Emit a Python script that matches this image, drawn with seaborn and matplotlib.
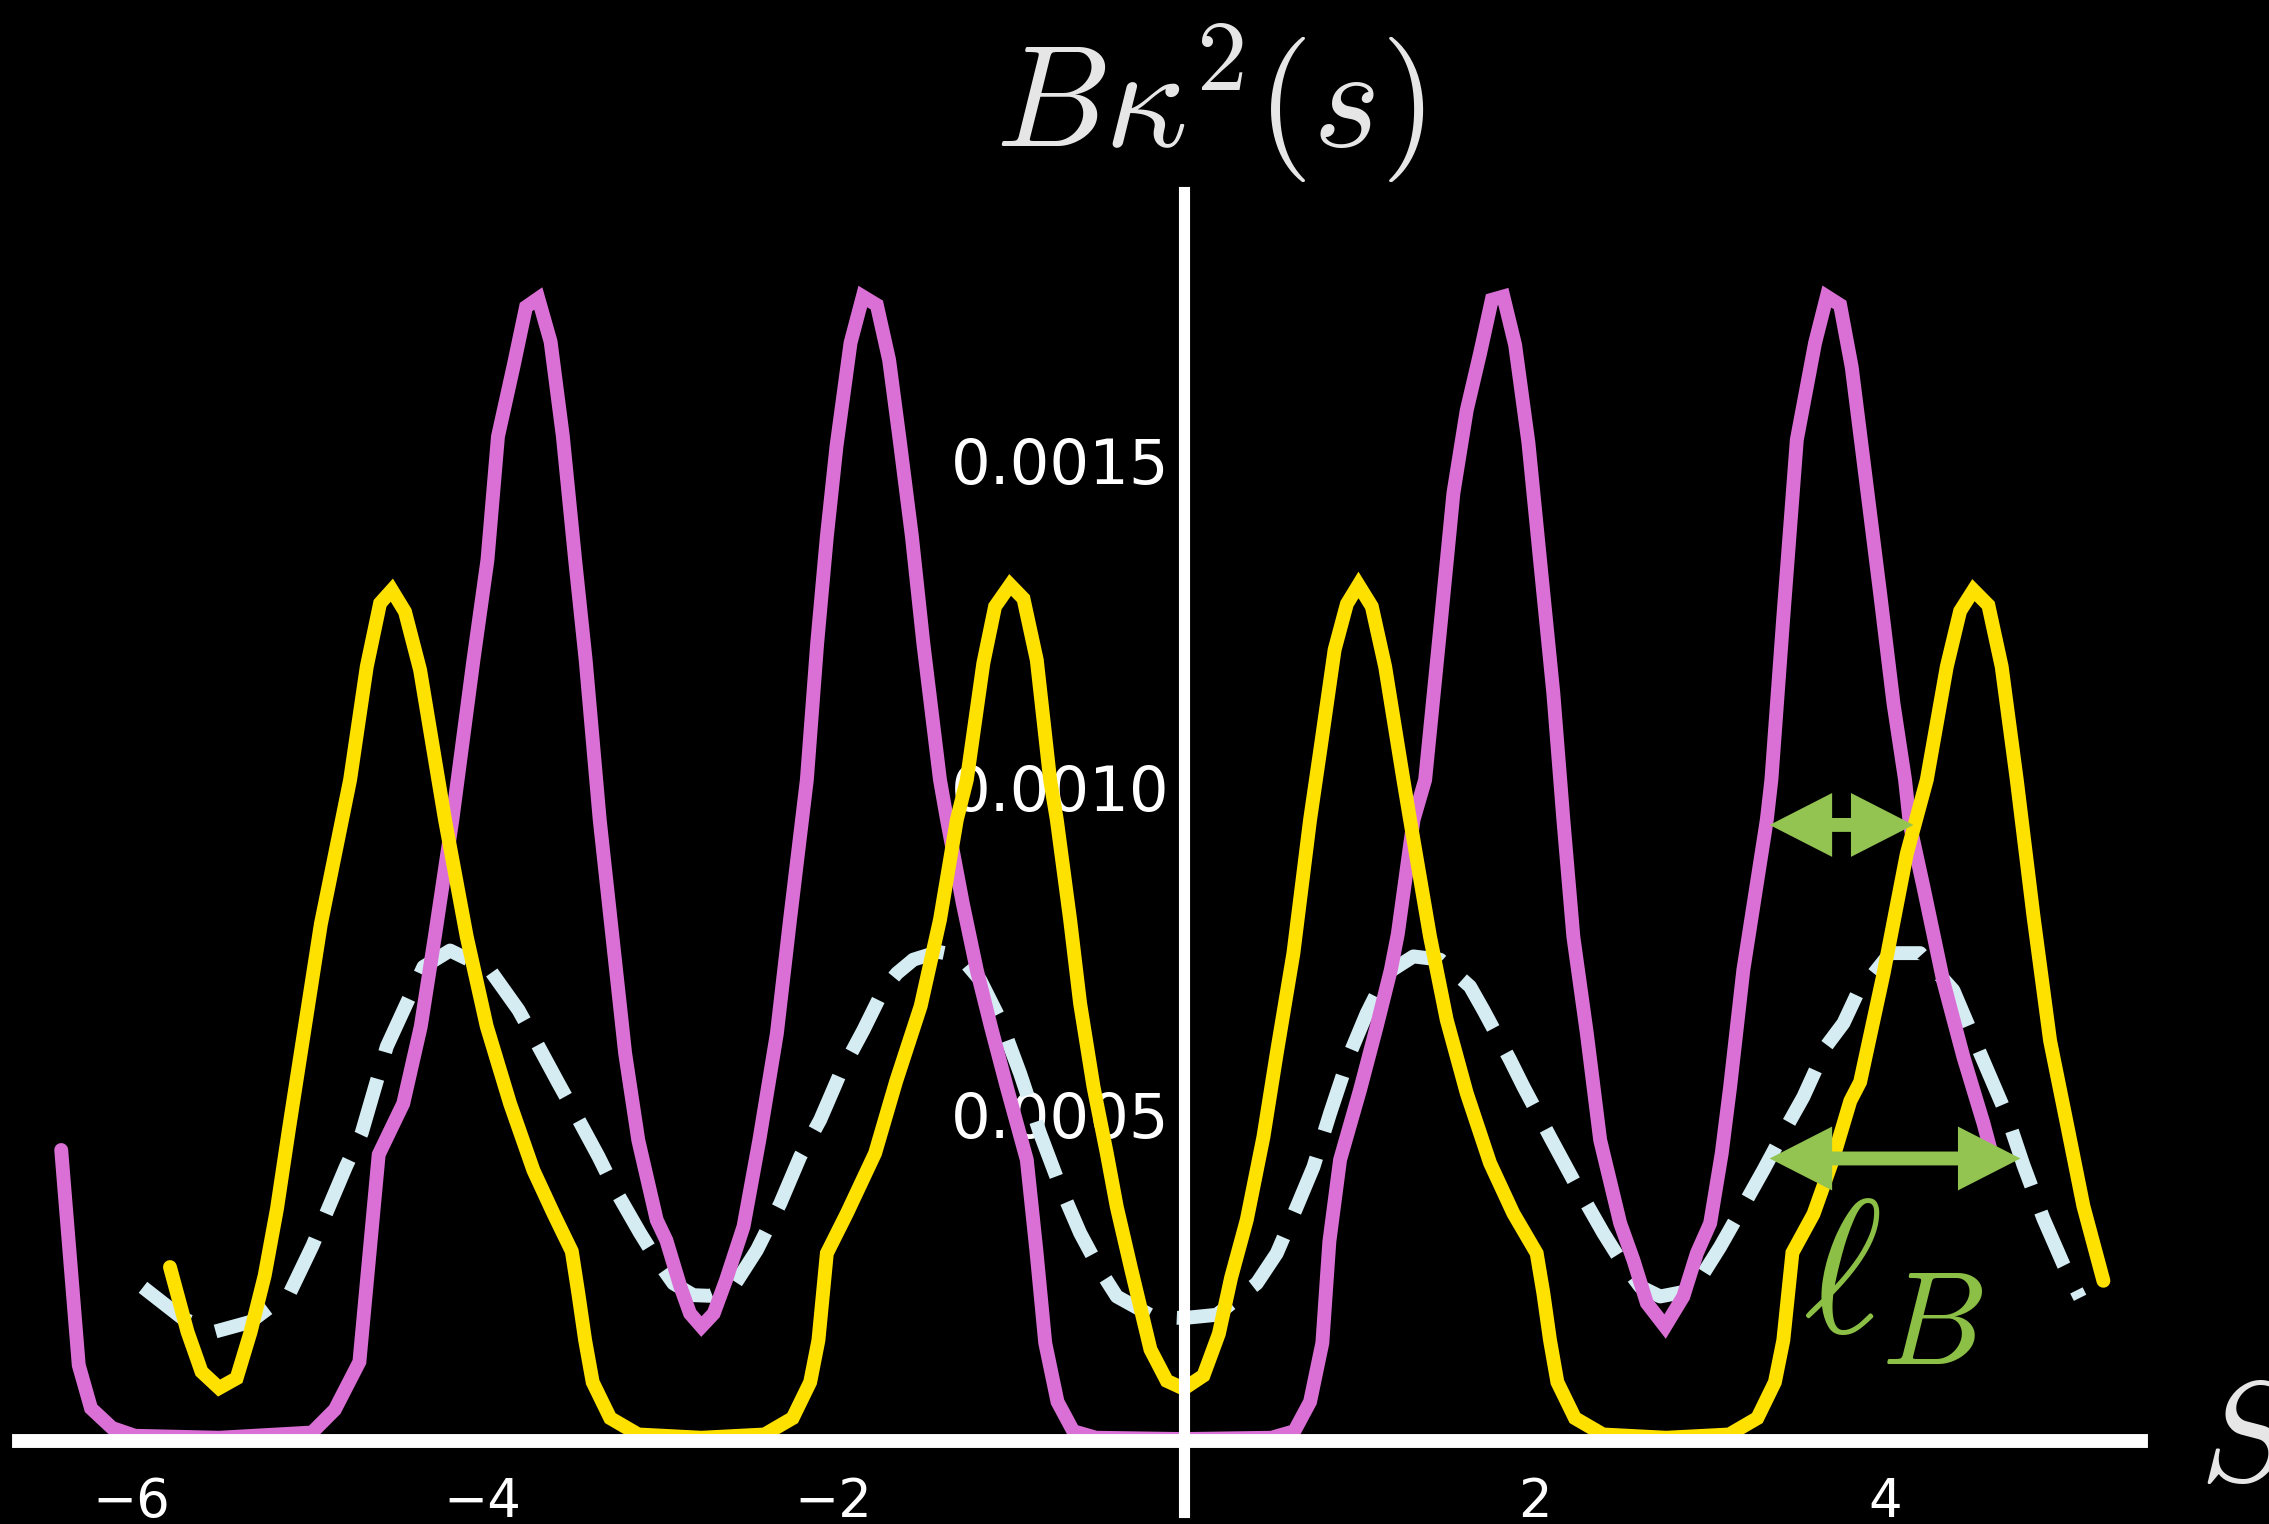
import matplotlib
matplotlib.use("Agg")
import matplotlib.pyplot as plt
import seaborn as sns
from matplotlib.patches import FancyArrowPatch

# curve samples (s, B*kappa^2)
MAGENTA_S = [-6.40, -6.30, -6.23, -6.11, -5.98, -5.50, -4.97, -4.84, -4.70, -4.59,
             -4.45, -4.35, -4.27, -4.17, -4.05, -3.97, -3.91, -3.82, -3.75, -3.68,
             -3.61, -3.54, -3.47, -3.41, -3.33, -3.185, -3.11, -3.005, -2.95, -2.87,
             -2.815, -2.75, -2.68, -2.61, -2.51, -2.42, -2.32, -2.245, -2.149, -2.09,
             -2.035, -1.98, -1.90, -1.83, -1.75, -1.68, -1.62, -1.55, -1.485, -1.39,
             -1.35, -1.26, -1.18, -1.10, -1.01, -0.895, -0.84, -0.79, -0.72, -0.63,
             -0.50, 0.0, 0.50, 0.63, 0.72, 0.79, 0.83, 0.891, 1.005, 1.10,
             1.18, 1.22, 1.31, 1.376, 1.461, 1.537, 1.613, 1.689, 1.756, 1.822,
             1.889, 1.965, 2.031, 2.107, 2.164, 2.221, 2.298, 2.374, 2.488, 2.563,
             2.64, 2.744, 2.848, 2.925, 3.001, 3.067, 3.115, 3.19, 3.324, 3.35,
             3.418, 3.495, 3.599, 3.666, 3.742, 3.808, 3.884, 3.97, 4.046, 4.112,
             4.14, 4.217, 4.331, 4.445, 4.559, 4.60]
MAGENTA_K = [0.000445, 0.000116, 0.000050, 0.000020, 0.000008, 0.000005, 0.000013, 0.000048, 0.000121, 0.000438,
             0.000516, 0.000634, 0.000771, 0.000950, 0.001194, 0.001347, 0.001536, 0.001645, 0.001734, 0.001747,
             0.001681, 0.001536, 0.001347, 0.001194, 0.000950, 0.000593, 0.000460, 0.000338, 0.000307, 0.000236,
             0.000195, 0.000175, 0.000195, 0.000246, 0.000328, 0.000460, 0.000623, 0.000797, 0.001011, 0.001220,
             0.001383, 0.001521, 0.001679, 0.001750, 0.001737, 0.001653, 0.001531, 0.001383, 0.001220, 0.001011,
             0.000950, 0.000822, 0.000720, 0.000634, 0.000542, 0.000430, 0.000290, 0.000150, 0.000060, 0.000015,
             0.000005, 0.000003, 0.000005, 0.000015, 0.000060, 0.000150, 0.000305, 0.000430, 0.000537, 0.000634,
             0.000720, 0.000775, 0.000950, 0.001011, 0.001240, 0.001449, 0.001576, 0.001663, 0.001745, 0.001750,
             0.001676, 0.001526, 0.001347, 0.001143, 0.000950, 0.000771, 0.000623, 0.000460, 0.000333, 0.000277,
             0.000211, 0.000175, 0.000221, 0.000287, 0.000333, 0.000440, 0.000542, 0.000720, 0.000950, 0.001011,
             0.001260, 0.001531, 0.001679, 0.001750, 0.001737, 0.001642, 0.001480, 0.001296, 0.001128, 0.001011,
             0.000942, 0.000847, 0.000702, 0.000587, 0.000486, 0.000445]

YELLOW_S = [-5.78, -5.68, -5.60, -5.50, -5.40, -5.32, -5.24, -5.17, -5.10, -4.92,
            -4.753, -4.658, -4.582, -4.515, -4.44, -4.354, -4.25, -4.212, -4.088, -3.974,
            -3.841, -3.708, -3.594, -3.489, -3.452, -3.413, -3.37, -3.27, -3.11, -2.75,
            -2.39, -2.23, -2.13, -2.083, -2.035, -1.921, -1.76, -1.64, -1.50, -1.39,
            -1.294, -1.237, -1.143, -1.076, -0.99, -0.914, -0.838, -0.762, -0.724, -0.648,
            -0.591, -0.515, -0.439, -0.382, -0.30, -0.19, -0.097, 0.0, 0.112, 0.20,
            0.27, 0.359, 0.454, 0.53, 0.625, 0.72, 0.78, 0.86, 0.93, 0.996,
            1.072, 1.148, 1.252, 1.29, 1.404, 1.499, 1.613, 1.746, 1.879, 2.012,
            2.05, 2.088, 2.13, 2.23, 2.39, 2.75, 3.11, 3.27, 3.37, 3.418,
            3.47, 3.59, 3.70, 3.80, 3.856, 3.989, 4.122, 4.236, 4.35, 4.426,
            4.502, 4.587, 4.663, 4.749, 4.844, 4.939, 5.034, 5.129, 5.243]
YELLOW_K = [0.000266, 0.000167, 0.000106, 0.000081, 0.000096, 0.000167, 0.000253, 0.000355, 0.000480, 0.000790,
            0.001011, 0.001184, 0.001281, 0.001301, 0.001268, 0.001179, 0.001011, 0.000950, 0.000771, 0.000634,
            0.000516, 0.000414, 0.000348, 0.000290, 0.000226, 0.000154, 0.000090, 0.000035, 0.000010, 0.000005,
            0.000010, 0.000035, 0.000090, 0.000154, 0.000287, 0.000348, 0.000440, 0.000550, 0.000665, 0.000797,
            0.000950, 0.001011, 0.001189, 0.001276, 0.001309, 0.001288, 0.001194, 0.001011, 0.000950, 0.000797,
            0.000669, 0.000542, 0.000440, 0.000358, 0.000263, 0.000140, 0.000092, 0.000080, 0.000100, 0.000164,
            0.000250, 0.000338, 0.000465, 0.000593, 0.000746, 0.000950, 0.001060, 0.001210, 0.001280, 0.001309,
            0.001276, 0.001184, 0.001011, 0.000950, 0.000771, 0.000644, 0.000532, 0.000425, 0.000348, 0.000287,
            0.000226, 0.000154, 0.000090, 0.000035, 0.000010, 0.000005, 0.000010, 0.000035, 0.000090, 0.000154,
            0.000288, 0.000347, 0.000430, 0.000520, 0.000549, 0.000714, 0.000898, 0.001011, 0.001184, 0.001269,
            0.001301, 0.001278, 0.001184, 0.001011, 0.000803, 0.000612, 0.000486, 0.000359, 0.000245]

BLUE_S = [-5.934, -5.705, -5.527, -5.323, -5.094, -4.967, -4.776, -4.687, -4.544, -4.335,
          -4.183, -3.955, -3.793, -3.708, -3.565, -3.47, -3.337, -3.252, -3.10, -3.005,
          -2.91, -2.796, -2.70, -2.568, -2.434, -2.301, -2.187, -2.073, -1.959, -1.827,
          -1.713, -1.636, -1.542, -1.399, -1.275, -1.161, -1.047, -0.933, -0.819, -0.705,
          -0.591, -0.477, -0.382, -0.173, 0.0, 0.188, 0.416, 0.53, 0.644, 0.739,
          0.834, 0.948, 1.043, 1.157, 1.309, 1.461, 1.632, 1.708, 1.86, 1.936,
          2.088, 2.241, 2.392, 2.488, 2.602, 2.716, 2.85, 2.962, 3.058, 3.21,
          3.304, 3.438, 3.532, 3.666, 3.761, 3.836, 4.027, 4.198, 4.388, 4.54,
          4.692, 4.787, 4.901, 5.015, 5.11]
BLUE_K = [0.000235, 0.000187, 0.000167, 0.000182, 0.000228, 0.000299, 0.000420, 0.000471, 0.000603, 0.000725,
          0.000750, 0.000720, 0.000659, 0.000618, 0.000547, 0.000501, 0.000435, 0.000389, 0.000318, 0.000277,
          0.000241, 0.000223, 0.000222, 0.000236, 0.000292, 0.000363, 0.000435, 0.000491, 0.000562, 0.000628,
          0.000690, 0.000715, 0.000736, 0.000748, 0.000741, 0.000705, 0.000644, 0.000562, 0.000470, 0.000389,
          0.000318, 0.000261, 0.000221, 0.000190, 0.000188, 0.000193, 0.000241, 0.000287, 0.000358, 0.000419,
          0.000501, 0.000593, 0.000654, 0.000715, 0.000741, 0.000736, 0.000695, 0.000659, 0.000583, 0.000542,
          0.000465, 0.000389, 0.000318, 0.000277, 0.000236, 0.000221, 0.000228, 0.000256, 0.000297, 0.000369,
          0.000414, 0.000481, 0.000526, 0.000605, 0.000639, 0.000682, 0.000746, 0.000746, 0.000689, 0.000593,
          0.000498, 0.000422, 0.000340, 0.000270, 0.000219]

X_MAJOR = [-6, -4, -2, 0, 2, 4]
X_LABELS = ["\u22126", "\u22124", "\u22122", "", "2", "4"]
X_MINOR = [-6.5, -5.5, -5, -4.5, -3.5, -3, -2.5, -1.5, -1, -0.5, 0.5, 1, 1.5, 2.5, 3, 3.5, 4.5, 5]
Y_MAJOR = [0.0005, 0.0010, 0.0015]
Y_LABELS = ["0.0005", "0.0010", "0.0015"]
Y_MINOR = [0.0001, 0.0002, 0.0003, 0.0004, 0.0006, 0.0007, 0.0008, 0.0009,
           0.0011, 0.0012, 0.0013, 0.0014, 0.0016, 0.0017, 0.0018, 0.0019]

# the two width markers (l_B)
ARROW_UPPER = ((3.34, 0.000942), (4.16, 0.000942))
ARROW_LOWER = ((3.34, 0.000432), (4.77, 0.000432))

MAGENTA = "#da70d6"
YELLOW = "#ffe100"
BLUE = "#d4ecf2"
GREEN = "#93c452"
GREEN_TEXT = "#8cbf45"
LIGHT = "#e6e6e6"
LW = 10

sns.set_theme(style="white")
plt.rcParams["font.family"] = ["DejaVu Sans"]
plt.rcParams["mathtext.fontset"] = "cm"

fig = plt.figure(figsize=(22.69, 15.24), dpi=100, facecolor="black")
ax = fig.add_axes([0, 0, 1, 1])
ax.set_facecolor("black")

sns.lineplot(x=BLUE_S, y=BLUE_K, ax=ax, color=BLUE, sort=False, estimator=None,
             linewidth=LW, linestyle=(0, (4.2, 2.0)), dash_capstyle="butt")
sns.lineplot(x=MAGENTA_S, y=MAGENTA_K, ax=ax, color=MAGENTA, sort=False, estimator=None,
             linewidth=LW, solid_joinstyle="miter")
sns.lineplot(x=YELLOW_S, y=YELLOW_K, ax=ax, color=YELLOW, sort=False, estimator=None,
             linewidth=LW, solid_joinstyle="miter")

ax.set_xlim(-6.749, 6.187)
ax.set_ylim(-0.0001269, 0.0022034)

# axes crossing at the origin
for side in ["top", "right"]:
    ax.spines[side].set_visible(False)
ax.spines["left"].set_position(("data", 0))
ax.spines["bottom"].set_position(("data", 0))
ax.spines["left"].set_bounds(-0.000109, 0.00191)
ax.spines["bottom"].set_bounds(-6.64, 5.46)
ax.spines["left"].set_linewidth(8)
ax.spines["bottom"].set_linewidth(10)
ax.spines["left"].set_color("white")
ax.spines["bottom"].set_color("white")

ax.set_xticks(X_MAJOR, X_LABELS)
ax.set_xticks(X_MINOR, minor=True)
ax.set_yticks(Y_MAJOR, Y_LABELS)
ax.set_yticks(Y_MINOR, minor=True)
ax.tick_params(axis="x", which="major", direction="in", length=11, width=4.5, color="white",
               labelcolor="white", labelsize=38, pad=25)
ax.tick_params(axis="x", which="minor", direction="in", length=8.5, width=3.5, color="white")
ax.tick_params(axis="y", which="major", direction="in", length=10.5, width=7, color="white",
               labelcolor="white", labelsize=45, pad=10)
ax.tick_params(axis="y", which="minor", direction="in", length=7, width=6, color="white")
ax.set_xlabel("")
ax.set_ylabel("")
ax.grid(False)

# titles
fig.text(1210 / 2269, 1 - 103 / 1524, r"$B\kappa^2(s)$", ha="center", va="center",
         fontsize=104, color=LIGHT)
ax.text(5.79, 0.0, r"$S$", ha="left", va="center", fontsize=103, color=LIGHT)

# width markers
for (a, b) in [ARROW_UPPER, ARROW_LOWER]:
    shaft = FancyArrowPatch(a, b, arrowstyle="-", lw=10, color=GREEN,
                            shrinkA=40, shrinkB=40, capstyle="butt", zorder=5)
    heads = FancyArrowPatch(a, b, arrowstyle="<|-|>,head_length=4.5,head_width=2.3",
                            mutation_scale=10, lw=0, color=GREEN,
                            shrinkA=0, shrinkB=0, zorder=6)
    ax.add_patch(shaft)
    ax.add_patch(heads)

ax.text(3.53, 0.000385, r"$\ell_B$", ha="left", va="top", fontsize=136, color=GREEN_TEXT, zorder=6)

fig.savefig("out.png", dpi=100, facecolor="black")
